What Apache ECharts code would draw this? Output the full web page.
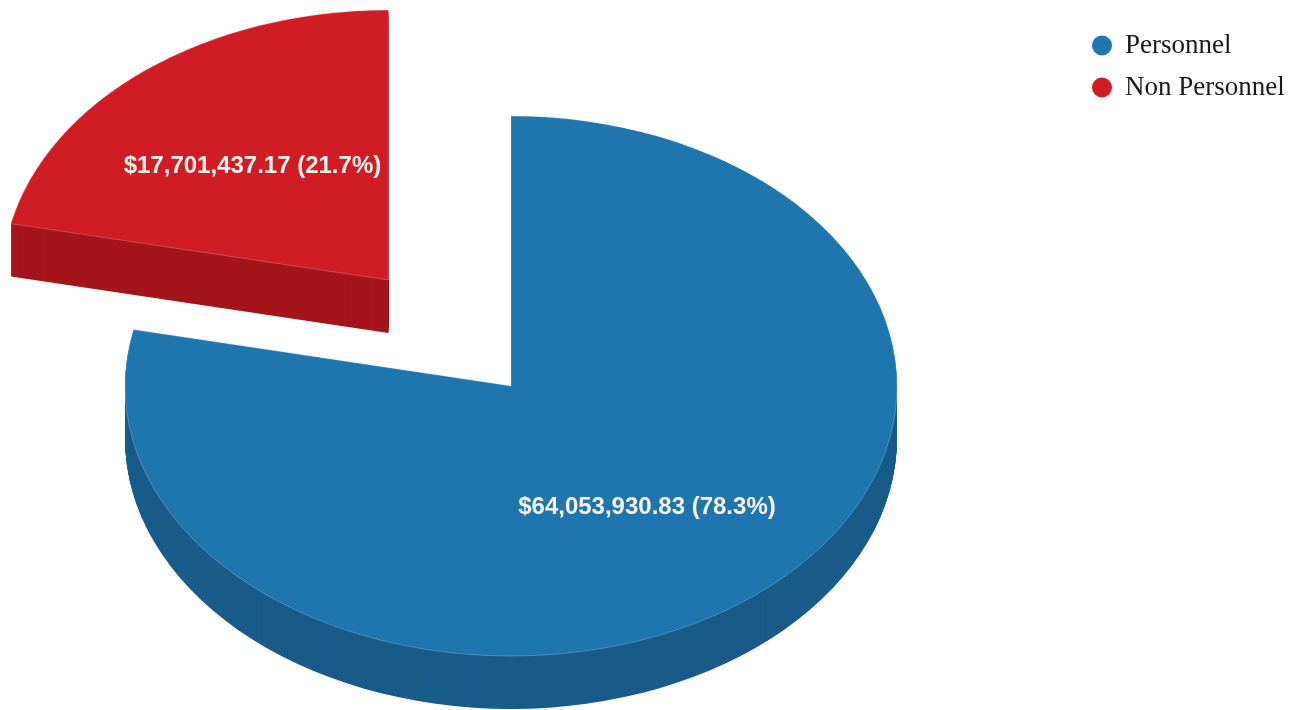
<!DOCTYPE html>
<html>
<head>
<meta charset="utf-8">
<title>Personnel vs Non Personnel</title>
<script src="https://cdn.jsdelivr.net/npm/echarts@6/dist/echarts.min.js"></script>
<style>
  html, body { margin: 0; padding: 0; background: #ffffff; }
  #chart { width: 1300px; height: 710px; }
</style>
</head>
<body>
<div id="chart"></div>
<script>
// Budget split
const categories = ['Personnel', 'Non Personnel'];
const amounts = [64053930.83, 17701437.17];
const exploded = [false, true];

// Face colours: top face and extruded side wall
const topColors = ['#1f75ad', '#d01c24'];
const sideColors = ['#195b89', '#a5151b'];

// Tilted pie geometry (screen pixels)
const PIE = { cx: 511, cy: 386, rx: 386, ry: 270, depth: 53, explode: 0.505, labelR: 0.56, labelDy: 4 };

const total = amounts.reduce((a, b) => a + b, 0);

function money(v) {
  return '$' + v.toLocaleString('en-US', { minimumFractionDigits: 2, maximumFractionDigits: 2 });
}

// Start/end angles (canvas convention, clockwise from 12 o'clock)
function sliceAngles(i) {
  let before = 0;
  for (let k = 0; k < i; k++) before += amounts[k];
  const start = -Math.PI / 2 + 2 * Math.PI * before / total;
  const end = start + 2 * Math.PI * amounts[i] / total;
  return [start, end];
}

function makeRenderer(i) {
  return function (params, api) {
    const value = api.value(0);
    const [a0, a1] = sliceAngles(i);
    const mid = (a0 + a1) / 2;
    const k = PIE.ry / PIE.rx;
    const e = exploded[i] ? PIE.explode : 0;
    const ox = PIE.cx + e * PIE.rx * Math.cos(mid);
    const oy = PIE.cy + e * PIE.ry * Math.sin(mid);

    const faces = [];
    // side wall: the slice swept downward through the pie's thickness
    for (let d = PIE.depth; d >= 1; d--) {
      faces.push({
        type: 'sector',
        shape: { cx: 0, cy: d / k, r: PIE.rx, r0: 0, startAngle: a0, endAngle: a1, clockwise: true },
        style: { fill: sideColors[i] },
        silent: true
      });
    }
    // top face
    faces.push({
      type: 'sector',
      shape: { cx: 0, cy: 0, r: PIE.rx, r0: 0, startAngle: a0, endAngle: a1, clockwise: true },
      style: { fill: topColors[i], stroke: 'rgba(255,255,255,0.28)', lineWidth: 1, strokeNoScale: true }
    });

    const pct = (value / total * 100).toFixed(1);
    return {
      type: 'group',
      children: [
        { type: 'group', x: ox, y: oy, scaleX: 1, scaleY: k, children: faces },
        {
          type: 'text',
          x: ox + PIE.labelR * PIE.rx * Math.cos(mid),
          y: oy + PIE.labelR * PIE.ry * Math.sin(mid) + PIE.labelDy,
          style: {
            text: money(value) + ' (' + pct + '%)',
            fill: '#f6f3ee',
            font: 'bold 24px "Liberation Sans", Arial, sans-serif',
            align: 'center',
            verticalAlign: 'middle'
          },
          silent: true
        }
      ]
    };
  };
}

const chart = echarts.init(document.getElementById('chart'), null, { renderer: 'canvas' });

chart.setOption({
  backgroundColor: '#ffffff',
  animation: false,
  legend: {
    orient: 'vertical',
    left: 1087,
    top: 27,
    itemWidth: 20,
    itemHeight: 20,
    itemGap: 15,
    icon: 'circle',
    data: categories,
    textStyle: {
      fontFamily: '"Liberation Serif", "Times New Roman", serif',
      fontSize: 27,
      color: '#1a1a1a',
      padding: [0, 0, 0, 8]
    }
  },
  series: categories.map((name, i) => ({
    type: 'custom',
    name: name,
    coordinateSystem: 'none',
    itemStyle: { color: topColors[i] },
    renderItem: makeRenderer(i),
    data: [{ name: name, value: amounts[i] }]
  }))
});
</script>
</body>
</html>
